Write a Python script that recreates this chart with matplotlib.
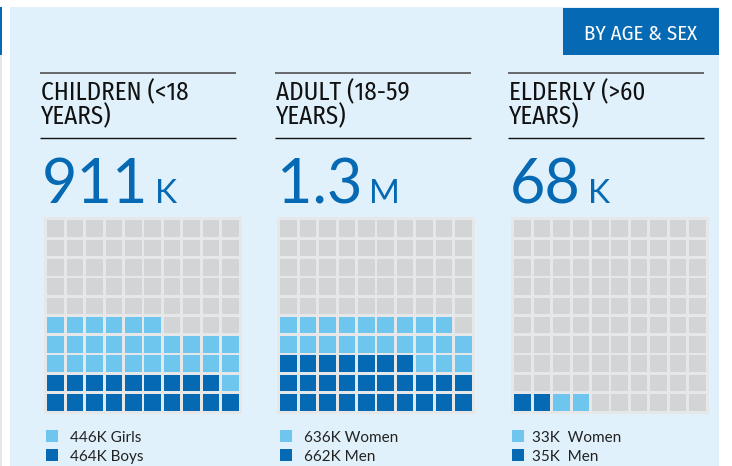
import matplotlib
matplotlib.use("Agg")
import matplotlib.pyplot as plt
from matplotlib.patches import Rectangle

# ---- data ----
groups = ["CHILDREN (<18\nYEARS)", "ADULT (18-59\nYEARS)", "ELDERLY (>60\nYEARS)"]
totals = ["911", "1.3", "68"]
total_units = ["K", "M", "K"]
dark_cells = [19, 27, 2]      # boys / men (filled first)
light_cells = [27, 22, 2]     # girls / women
light_labels = ["446K Girls", "636K Women", "33K  Women"]
dark_labels = ["464K Boys", "662K Men", "35K  Men"]
badge = "BY AGE & SEX"

W, H = 732, 466
DARK = "#0569b3"
LIGHT = "#6ec6ef"
GRAY = "#d3d4d6"
PANEL = "#e6e7e8"
BG = "#e0f1fb"

narrow = ["Fira Sans Condensed", "PT Sans Narrow", "DejaVu Sans"]
geo = ["Lato", "DejaVu Sans"]

fig = plt.figure(figsize=(W / 100, H / 100), dpi=100)
fig.patch.set_facecolor("white")
bg = fig.add_axes([0, 0, 1, 1])
bg.set_xlim(0, W)
bg.set_ylim(H, 0)
bg.axis("off")

# background panel and side strips
bg.add_patch(Rectangle((10, 7), 709, H - 7, color=BG, lw=0))
bg.add_patch(Rectangle((0, 55), 2, H - 55, color="#e6e6e6", lw=0))
bg.add_patch(Rectangle((0, 7), 2, 48, color=DARK, lw=0))

# badge
bg.add_patch(Rectangle((563, 8), 156, 47, color=DARK, lw=0))
bg.text(641, 40.5, badge, color="white", fontsize=15, family=narrow,
        ha="center", va="baseline")

col_x = [40, 275, 508]
grid_x = [44, 277, 511]
legend_x = [46, 280, 512]

fig.canvas.draw()
renderer = fig.canvas.get_renderer()

for i in range(3):
    x0 = col_x[i]
    bg.plot([x0, x0 + 196], [73.3, 73.3], color="#444444", lw=1.1, solid_capstyle="butt")
    bg.plot([x0, x0 + 196], [138.3, 138.3], color="#111111", lw=1.0, solid_capstyle="butt")
    bg.text(x0 + 1, 124.5, groups[i], fontsize=18, family=narrow, color="#111111",
            ha="left", va="baseline", linespacing=0.95)
    num = bg.text(x0 + 2, 203, totals[i], fontsize=44, family=geo, fontweight=400,
                  color=DARK, ha="left", va="baseline")
    fig.canvas.draw()
    bb = num.get_window_extent(renderer)
    inv = bg.transData.inverted()
    xr = inv.transform((bb.x1, 0))[0]
    bg.text(xr + 7, 203, total_units[i], fontsize=24, family=geo, fontweight=400,
            color=DARK, ha="left", va="baseline")

    # waffle axes
    gx = grid_x[i]
    ax = fig.add_axes([gx / W, 1 - 414 / H, 198 / W, 197 / H])
    ax.set_xlim(-0.15, 10.05)
    ax.set_ylim(-0.15, 10.05)
    ax.set_facecolor(PANEL)
    for s in ax.spines.values():
        s.set_visible(False)
    ax.set_xticks([])
    ax.set_yticks([])
    for k in range(100):
        r, c = divmod(k, 10)
        if k < dark_cells[i]:
            col = DARK
        elif k < dark_cells[i] + light_cells[i]:
            col = LIGHT
        else:
            col = GRAY
        ax.add_patch(Rectangle((c + 0.02, r + 0.02), 0.86, 0.86, color=col, lw=0))

    # legend
    lx = legend_x[i]
    bg.add_patch(Rectangle((lx, 430), 12, 12, color=LIGHT, lw=0))
    bg.add_patch(Rectangle((lx, 449), 12, 12, color=DARK, lw=0))
    tx = lx + 24 - (4 if i == 2 else 0)
    bg.text(tx, 441.5, light_labels[i], fontsize=11, family=geo,
            color="#222222", ha="left", va="baseline")
    bg.text(tx, 461, dark_labels[i], fontsize=11, family=geo,
            color="#222222", ha="left", va="baseline")

fig.savefig("out.png", dpi=100, facecolor=fig.get_facecolor())
